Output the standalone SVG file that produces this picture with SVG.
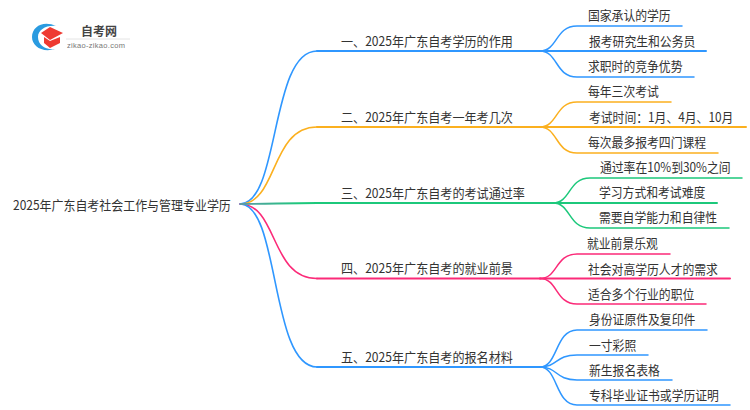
<svg xmlns="http://www.w3.org/2000/svg" width="750" height="410" viewBox="0 0 750 410">
<defs>
<linearGradient id="gg" gradientUnits="userSpaceOnUse" x1="240" y1="0" x2="300" y2="0"><stop offset="0" stop-color="#5f9aa8"/><stop offset="1" stop-color="#1cc87b"/></linearGradient>
</defs>
<style>
text{font-family:"Noto Sans CJK SC","Noto Sans",sans-serif;font-size:13px;fill:#333;transform-box:fill-box;transform-origin:left center;transform:scaleX(.91)}
.m{transform:scaleX(.93)}
.r{transform:scaleX(.92)}
.c{fill:none;stroke-linecap:round}
.b{stroke:#2f97ff}.o{stroke:#fbb01f}.g{stroke:#1cc87b}.p{stroke:#fb2a78}
.t{stroke-width:1.6}.h{stroke-width:2}.s{stroke-width:1.5}
</style>
<rect width="750" height="410" fill="#fff"/>
<g id="logo">
<path d="M56 26C44 20 32 26 32 37C32 46 42 53 55 49C45 50 38 45 38 37C38 30 46 25 56 26Z" fill="#2a9be0"/>
<path d="M50 27L63 33L50 40L41 33Z" fill="#ee3a32"/>
<path d="M44 37L50 41L60 37V43L50 48L44 43Z" fill="#ee3a32"/>
<text x="81" y="36" style="font-size:12px;font-weight:700;transform:none;fill:#444">自考网</text>
<path d="M66 39H130" stroke="#e4e4e4" stroke-width="1"/>
<text x="67" y="48" style="font-size:7.500px;fill:#777;letter-spacing:.3px;transform:none;font-family:'Liberation Sans',sans-serif">zikao-zikao.com</text>
</g>
<g id="connectors">
<path class="c b t" d="M240 204C280 204 270 51 317 51"/><path class="c b h" d="M317 51H540"/>
<path class="c o t" d="M240 204C278 204 270 127 317 127"/><path class="c o h" d="M317 127H540"/>
<path class="c p t" d="M240 204C278 204 270 278.500 317 278.500"/><path class="c p h" d="M317 278.500H540"/>
<path class="c b t" d="M240 204C280 204 270 367 317 367"/><path class="c b h" d="M317 367H540"/>
<path fill="none" stroke="url(#gg)" stroke-width="1.800" d="M240 204C270 204 285 203 317 203"/><path class="c g h" d="M317 203H553"/>

<path class="c b s" d="M540 51C558 51 555 26 577 26H682"/><path class="c b h" d="M540 51H706"/><path class="c b s" d="M540 51C558 51 555 77 577 77H694"/>
<path class="c o s" d="M540 127C558 127 555 102 577 102H671"/><path class="c o h" d="M540 127H746"/><path class="c o s" d="M540 127C558 127 555 153 577 153H718"/>
<path class="c g s" d="M553 203C571 203 568 178 590 178H742"/><path class="c g h" d="M553 203H717"/><path class="c g s" d="M553 203C571 203 568 228 590 228H729"/>
<path class="c p s" d="M540 278.500C558 278.500 555 254 577 254H670"/><path class="c p h" d="M540 278.500H730"/><path class="c p s" d="M540 278.500C558 278.500 555 304 577 304H706"/>
<path class="c b s" d="M540 367C558 367 555 330 577 330H707"/><path class="c b s" d="M540 367C558 367 555 355 577 355H648"/><path class="c b s" d="M540 367C558 367 555 380 577 380H672"/><path class="c b s" d="M540 367C558 367 555 405 577 405H730"/>
</g>
<g id="root"><text class="r" x="13" y="210.500">2025年广东自考社会工作与管理专业学历</text></g>
<g id="n1"><text class="m" x="341" y="46.500">一、2025年广东自考学历的作用</text></g>
<g id="n11"><text x="588" y="20.500">国家承认的学历</text></g>
<g id="n12"><text x="589" y="46.500">报考研究生和公务员</text></g>
<g id="n13"><text x="588" y="71.500">求职时的竞争优势</text></g>
<g id="n2"><text class="m" x="341" y="122.500">二、2025年广东自考一年考几次</text></g>
<g id="n21"><text x="588" y="96.500">每年三次考试</text></g>
<g id="n22"><text x="589" y="122.500">考试时间：1月、4月、10月</text></g>
<g id="n23"><text x="588" y="147.500">每次最多报考四门课程</text></g>
<g id="n3"><text class="m" x="341" y="198">三、2025年广东自考的考试通过率</text></g>
<g id="n31"><text x="600" y="172.500">通过率在10%到30%之间</text></g>
<g id="n32"><text x="599" y="197.500">学习方式和考试难度</text></g>
<g id="n33"><text x="599" y="222.500">需要自学能力和自律性</text></g>
<g id="n4"><text class="m" x="341" y="273.500">四、2025年广东自考的就业前景</text></g>
<g id="n41"><text x="587" y="248">就业前景乐观</text></g>
<g id="n42"><text x="588" y="274">社会对高学历人才的需求</text></g>
<g id="n43"><text x="588" y="299">适合多个行业的职位</text></g>
<g id="n5"><text class="m" x="341" y="362">五、2025年广东自考的报名材料</text></g>
<g id="n51"><text x="589" y="324">身份证原件及复印件</text></g>
<g id="n52"><text x="589" y="350">一寸彩照</text></g>
<g id="n53"><text x="589" y="375">新生报名表格</text></g>
<g id="n54"><text x="589" y="400">专科毕业证书或学历证明</text></g>
</svg>
